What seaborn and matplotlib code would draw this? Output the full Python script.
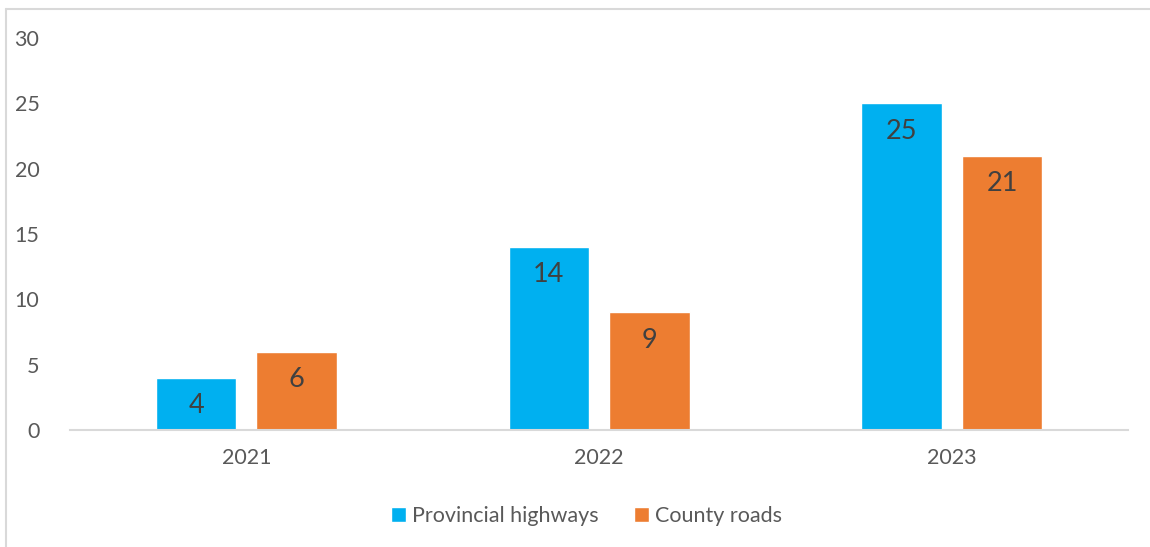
import matplotlib
matplotlib.use("Agg")
import matplotlib.pyplot as plt
from matplotlib.lines import Line2D
import seaborn as sns
import pandas as pd

years = ["2021", "2022", "2023"]
provincial_highways = [4, 14, 25]
county_roads = [6, 9, 21]
series_names = ["Provincial highways", "County roads"]
colors = ["#00B0F0", "#ED7D31"]
y_ticks = [0, 5, 10, 15, 20, 25, 30]

df = pd.DataFrame({
    "year": years * 2,
    "value": provincial_highways + county_roads,
    "series": [series_names[0]] * len(years) + [series_names[1]] * len(years),
})

sns.set_theme(style="white")
plt.rcParams["font.family"] = ["Lato", "DejaVu Sans"]

fig = plt.figure(figsize=(11.5, 5.47), dpi=100)
ax = fig.add_axes([0.0609, 0.2139, 0.9201, 0.7166])

sns.barplot(data=df, x="year", y="value", hue="series", order=years,
            hue_order=series_names, palette=colors, width=0.57, gap=0.2,
            saturation=1, ax=ax, legend=True)

ax.set_ylim(0, 30)
ax.set_xlim(-0.5, len(years) - 0.5)
ax.set_yticks(y_ticks)
ax.set_xlabel("")
ax.set_ylabel("")
for s in ["top", "right", "left"]:
    ax.spines[s].set_visible(False)
ax.spines["bottom"].set_color("#D9D9D9")
ax.spines["bottom"].set_linewidth(1.5)
ax.tick_params(axis="both", length=0, labelsize=15.5, labelcolor="#595959")
ax.tick_params(axis="y", pad=22)
ax.tick_params(axis="x", pad=13)

# value labels just inside the top of each bar
for container in ax.containers:
    for bar in container:
        h = bar.get_height()
        ax.annotate(f"{h:g}", xy=(bar.get_x() + bar.get_width() / 2, h),
                    xytext=(0, -20), textcoords="offset points",
                    ha="center", va="center", fontsize=19.5, color="#404040")

handles, labels = ax.get_legend_handles_labels()
ax.get_legend().remove()
fig.legend(handles, labels, loc="center", bbox_to_anchor=(0.51, 0.056),
           ncol=2, frameon=False, fontsize=15.5, labelcolor="#595959",
           handlelength=0.7, handleheight=0.7, handletextpad=0.3,
           columnspacing=1.6)

# chart-area outline (left and top edges)
fig.add_artist(Line2D([5.5 / 1150, 5.5 / 1150], [0, 1 - 9 / 547],
                      transform=fig.transFigure, color="#D9D9D9", lw=1.5))
fig.add_artist(Line2D([5.5 / 1150, 1], [1 - 9 / 547, 1 - 9 / 547],
                      transform=fig.transFigure, color="#D9D9D9", lw=1.5))

fig.savefig("out.png", dpi=100, facecolor="white")
